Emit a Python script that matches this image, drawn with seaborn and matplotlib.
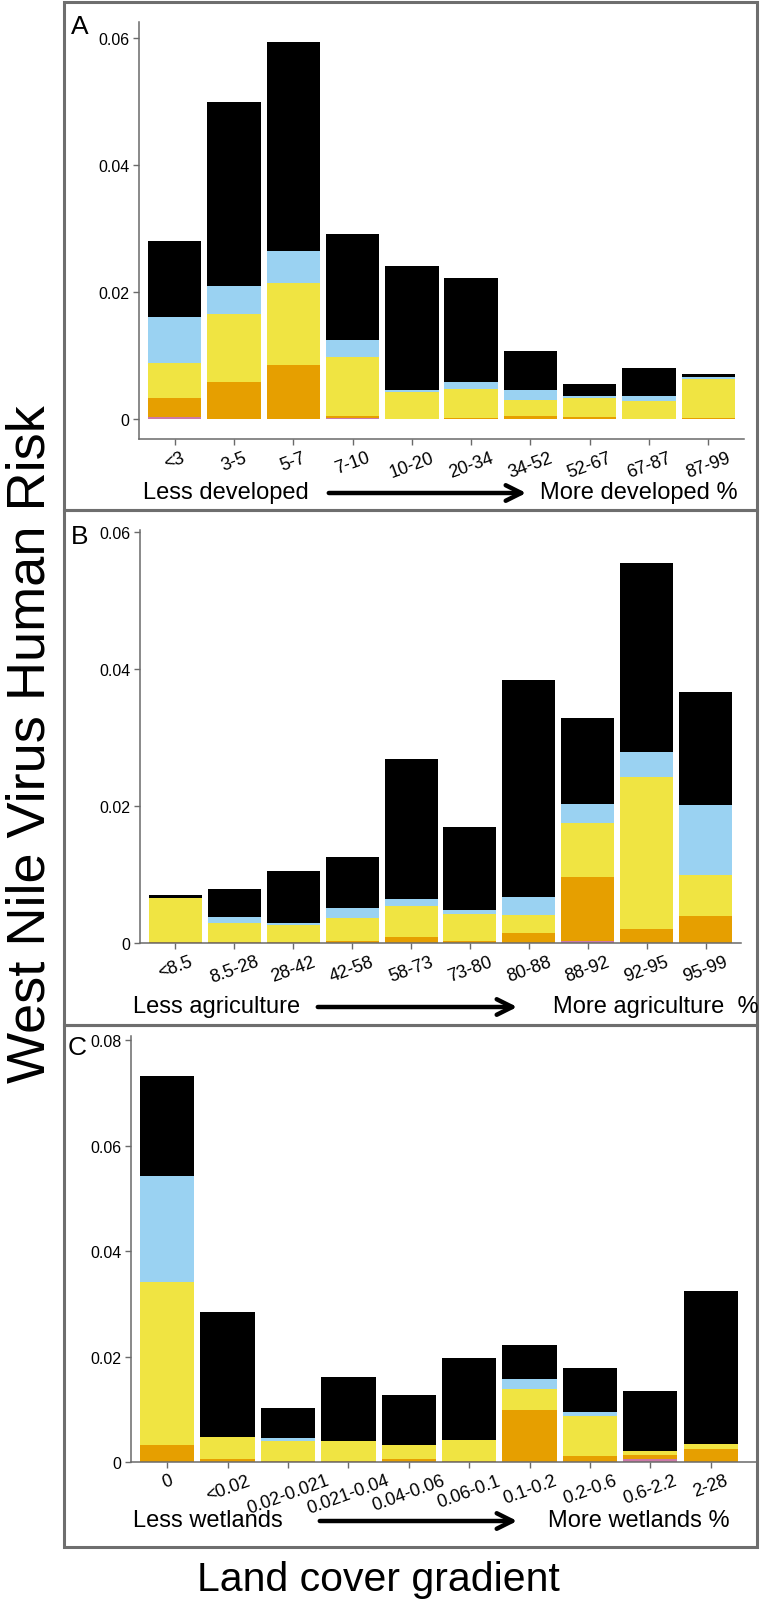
import numpy as np
import pandas as pd
import matplotlib
matplotlib.use("Agg")
import matplotlib.pyplot as plt
import seaborn as sns
from matplotlib.patches import Rectangle

# categories (x tick labels) for each panel
dev_cats = ['<3', '3-5', '5-7', '7-10', '10-20', '20-34', '34-52', '52-67', '67-87', '87-99']
agr_cats = ['<8.5', '8.5-28', '28-42', '42-58', '58-73', '73-80', '80-88', '88-92', '92-95', '95-99']
wet_cats = ['0', '<0.02', '0.02-0.021', '0.021-0.04', '0.04-0.06', '0.06-0.1', '0.1-0.2', '0.2-0.6', '0.6-2.2', '2-28']

# segment heights, bottom to top: pink, orange, yellow, blue, black
dev_pink = [0.0004, 0, 0, 0.0002, 0, 0, 0, 0, 0, 0]
dev_orange = [0.0030, 0.0059, 0.0085, 0.0003, 0.0001, 0.0002, 0.0005, 0.0003, 0.0001, 0.0002]
dev_yellow = [0.0055, 0.0106, 0.0130, 0.0093, 0.0042, 0.0046, 0.0025, 0.0031, 0.0028, 0.0062]
dev_blue = [0.0072, 0.0044, 0.0049, 0.0026, 0.0003, 0.0011, 0.0016, 0.0002, 0.0008, 0.0002]
dev_black = [0.0119, 0.0290, 0.0330, 0.0167, 0.0195, 0.0163, 0.0062, 0.0020, 0.0044, 0.0005]

agr_pink = [0, 0, 0, 0, 0, 0, 0, 0.0003, 0, 0]
agr_orange = [0.0001, 0.0001, 0.0002, 0.0003, 0.0009, 0.0003, 0.0014, 0.0094, 0.0020, 0.0039]
agr_yellow = [0.0064, 0.0028, 0.0025, 0.0033, 0.0045, 0.0040, 0.0027, 0.0078, 0.0222, 0.0061]
agr_blue = [0.0001, 0.0009, 0.0002, 0.0015, 0.0010, 0.0005, 0.0026, 0.0028, 0.0037, 0.0102]
agr_black = [0.0004, 0.0041, 0.0076, 0.0074, 0.0205, 0.0122, 0.0317, 0.0126, 0.0276, 0.0164]

wet_pink = [0, 0, 0, 0, 0, 0, 0, 0, 0.0005, 0]
wet_orange = [0.0033, 0.0005, 0.0001, 0.0001, 0.0006, 0.0002, 0.0099, 0.0012, 0.0009, 0.0024]
wet_yellow = [0.0309, 0.0042, 0.0039, 0.0039, 0.0027, 0.0040, 0.0040, 0.0075, 0.0007, 0.0010]
wet_blue = [0.0201, 0, 0.0005, 0, 0, 0, 0.0018, 0.0008, 0, 0]
wet_black = [0.0189, 0.0238, 0.0057, 0.0121, 0.0094, 0.0155, 0.0064, 0.0083, 0.0113, 0.0290]

dev_yticks = [0, 0.02, 0.04, 0.06]
agr_yticks = [0, 0.02, 0.04, 0.06]
wet_yticks = [0, 0.02, 0.04, 0.06, 0.08]

layer_colors = ['#CC79A7', '#E69F00', '#F0E442', '#9AD2F2', '#000000']

sns.set_style('white')
plt.rcParams['font.family'] = ['Liberation Sans', 'DejaVu Sans']
plt.rcParams['text.color'] = 'black'

W, H = 760, 1606
fig = plt.figure(figsize=(W / 100, H / 100), dpi=100)


def fx(x):
    return x / W


def fy(y):
    return 1 - y / H


def stacked_panel(box, cats, layers, yticks, ylim, xlim):
    l, t, r, b = box
    ax = fig.add_axes([fx(l), fy(b), (r - l) / W, (b - t) / H])
    cum = np.cumsum(np.array(layers), axis=0)
    # draw tallest cumulative first, then overlay lower layers
    for i in range(len(layers) - 1, -1, -1):
        df = pd.DataFrame({'cat': cats, 'val': cum[i]})
        sns.barplot(data=df, x='cat', y='val', order=cats, color=layer_colors[i],
                    saturation=1, width=0.9, errorbar=None, ax=ax, linewidth=0)
    ax.set_xlim(*xlim)
    ax.set_ylim(*ylim)
    ax.set_xlabel('')
    ax.set_ylabel('')
    ax.set_yticks(yticks)
    ax.set_yticklabels(['0'] + ['%g' % v for v in yticks[1:]], fontsize=11.5)
    ax.set_xticks(range(len(cats)))
    ax.set_xticklabels(cats, rotation=20, ha='center', fontsize=13)
    for s in ['top', 'right']:
        ax.spines[s].set_visible(False)
    for s in ['left', 'bottom']:
        ax.spines[s].set_color('#6a6a6a')
        ax.spines[s].set_linewidth(1.1)
    ax.tick_params(axis='both', length=4, width=1, color='#6a6a6a', direction='out',
                   left=True, bottom=True, pad=3, labelcolor='black')
    ax.set_facecolor('none')
    return ax


stacked_panel((139, 23, 744, 440), dev_cats,
              [dev_pink, dev_orange, dev_yellow, dev_blue, dev_black],
              dev_yticks, (-0.0031, 0.0625), (-0.6, 9.6))
stacked_panel((140, 531, 741, 944), agr_cats,
              [agr_pink, agr_orange, agr_yellow, agr_blue, agr_black],
              agr_yticks, (0, 0.0603), (-0.6, 9.6))
stacked_panel((131, 1037, 756, 1463), wet_cats,
              [wet_pink, wet_orange, wet_yellow, wet_blue, wet_black],
              wet_yticks, (0, 0.0808), (-0.6, 9.75))

# panel frames
for top, bot in [(3, 511), (511, 1026), (1026, 1548)]:
    fig.add_artist(Rectangle((fx(64), fy(bot)), (757 - 64) / W, (bot - top) / H,
                             transform=fig.transFigure, fill=False, lw=2.2, ec='#6e6e6e'))

# panel letters
fig.text(fx(71), fy(27), 'A', fontsize=19, va='center', ha='left')
fig.text(fx(71), fy(537), 'B', fontsize=19, va='center', ha='left')
fig.text(fx(68), fy(1048), 'C', fontsize=19, va='center', ha='left')

# gradient annotations under each panel
grad = [
    ('Less developed', 143, 'More developed %', 540, 493, 326, 529),
    ('Less agriculture', 133, 'More agriculture  %', 553, 1007, 315, 520),
    ('Less wetlands', 133, 'More wetlands %', 548, 1521, 317, 520),
]
for left_txt, lx, right_txt, rx, y, a0, a1 in grad:
    fig.text(fx(lx), fy(y), left_txt, fontsize=17, va='center', ha='left')
    fig.text(fx(rx), fy(y), right_txt, fontsize=17, va='center', ha='left')
    fig.add_artist(matplotlib.patches.FancyArrowPatch(
        (fx(a0), fy(y + 1)), (fx(a1), fy(y + 1)), transform=fig.transFigure,
        arrowstyle='->', mutation_scale=28, lw=3.2, color='black'))

fig.text(fx(31), fy(744), 'West Nile Virus Human Risk', fontsize=39, rotation=90,
         va='center', ha='center')
fig.text(fx(378), fy(1580), 'Land cover gradient', fontsize=29.5, va='center', ha='center')

plt.savefig('out.png', dpi=100)
